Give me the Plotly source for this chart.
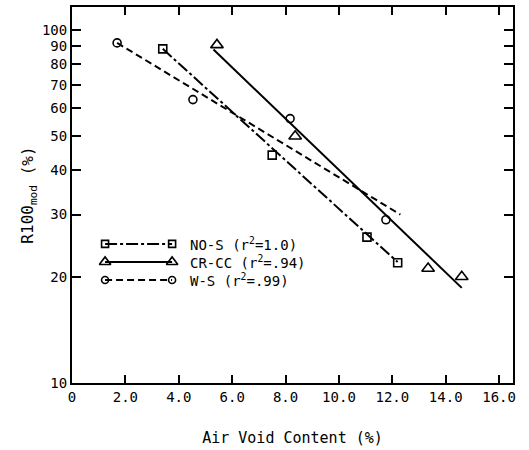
import plotly.graph_objects as go

# Data
nos_x = [3.4, 7.5, 11.05, 12.2]
nos_y = [88.4, 44.2, 25.9, 21.9]
nos_fit_x = [3.4, 12.2]
nos_fit_y = [88.4, 22.0]

crcc_x = [5.43, 8.36, 13.34, 14.6]
crcc_y = [90.7, 50.0, 21.1, 20.0]
crcc_fit_x = [5.3, 14.6]
crcc_fit_y = [88.0, 18.6]

ws_x = [1.69, 4.53, 8.17, 11.76]
ws_y = [91.9, 63.5, 56.1, 29.0]
ws_fit_x = [1.69, 12.3]
ws_fit_y = [91.9, 30.0]

x_ticks = [0, 2, 4, 6, 8, 10, 12, 14, 16]
x_ticklabels = ["0", "2.0", "4.0", "6.0", "8.0", "10.0", "12.0", "14.0", "16.0"]
y_ticks = [10, 20, 30, 40, 50, 60, 70, 80, 90, 100]
y_ticklabels = [str(v) for v in y_ticks]

legend_names = ["NO-S (r<sup>2</sup>=1.0)", "CR-CC (r<sup>2</sup>=.94)", "W-S (r<sup>2</sup>=.99)"]
legend_symbols = ["square-open", "triangle-up-open", "circle-open"]
legend_dashes = ["12px,3px,3px,3px", "solid", "7px,4px"]

FONT = "DejaVu Sans Mono"
fig = go.Figure()

def add_series(px, py, fx, fy, symbol, size, dash):
    fig.add_trace(go.Scatter(x=fx, y=fy, mode="lines",
                             line=dict(color="black", width=2, dash=dash),
                             showlegend=False, hoverinfo="skip"))
    fig.add_trace(go.Scatter(x=px, y=py, mode="markers",
                             marker=dict(symbol=symbol, size=size, color="black",
                                         line=dict(color="black", width=1.6)),
                             showlegend=False))

add_series(nos_x, nos_y, nos_fit_x, nos_fit_y, "square-open", 8, legend_dashes[0])
add_series(crcc_x, crcc_y, crcc_fit_x, crcc_fit_y, "triangle-up-open", 11, legend_dashes[1])
add_series(ws_x, ws_y, ws_fit_x, ws_fit_y, "circle-open", 8, legend_dashes[2])

# Hand-drawn style legend on an overlay axis (0..1)
leg_rows = [0.370, 0.322, 0.274]
for name, sym, dash, ry in zip(legend_names, legend_symbols, legend_dashes, leg_rows):
    fig.add_trace(go.Scatter(x=[0.075, 0.227], y=[ry, ry], mode="lines+markers",
                             line=dict(color="black", width=2, dash=dash),
                             marker=dict(symbol=sym, size=10 if "triangle" in sym else 7,
                                         color="black", line=dict(color="black", width=1.6)),
                             xaxis="x2", yaxis="y2", showlegend=False, hoverinfo="skip"))
    fig.add_annotation(x=0.262, y=ry, xref="x2", yref="y2", text=name, showarrow=False,
                       xanchor="left", yanchor="middle", font=dict(family=FONT, size=14, color="black"))

fig.update_layout(
    width=529, height=450,
    margin=dict(l=72, r=16, t=5, b=67),
    paper_bgcolor="white", plot_bgcolor="white",
    font=dict(family=FONT, size=14, color="black"),
    xaxis=dict(range=[0, 16.52], tickmode="array", tickvals=x_ticks, ticktext=x_ticklabels,
               ticks="inside", ticklen=8, tickwidth=2, tickcolor="black",
               showline=True, linewidth=2, linecolor="black", mirror="ticks",
               showgrid=False, zeroline=False,
               title=dict(text="Air Void Content (%)", standoff=29, font=dict(size=15))),
    yaxis=dict(type="log", range=[1, 2.065], tickmode="array", tickvals=y_ticks, ticktext=y_ticklabels,
               ticks="inside", ticklen=9, tickwidth=2, tickcolor="black",
               showline=True, linewidth=2, linecolor="black", mirror="ticks",
               showgrid=False, zeroline=False,
               title=dict(text="R100<sub>mod</sub> (%)", standoff=4, font=dict(size=16))),
    xaxis2=dict(range=[0, 1], overlaying="x", visible=False, fixedrange=True),
    yaxis2=dict(range=[0, 1], overlaying="y", visible=False, fixedrange=True),
)

fig.write_html("out.html", config={"displayModeBar": False},
               post_script="document.body.style.margin='0';")
